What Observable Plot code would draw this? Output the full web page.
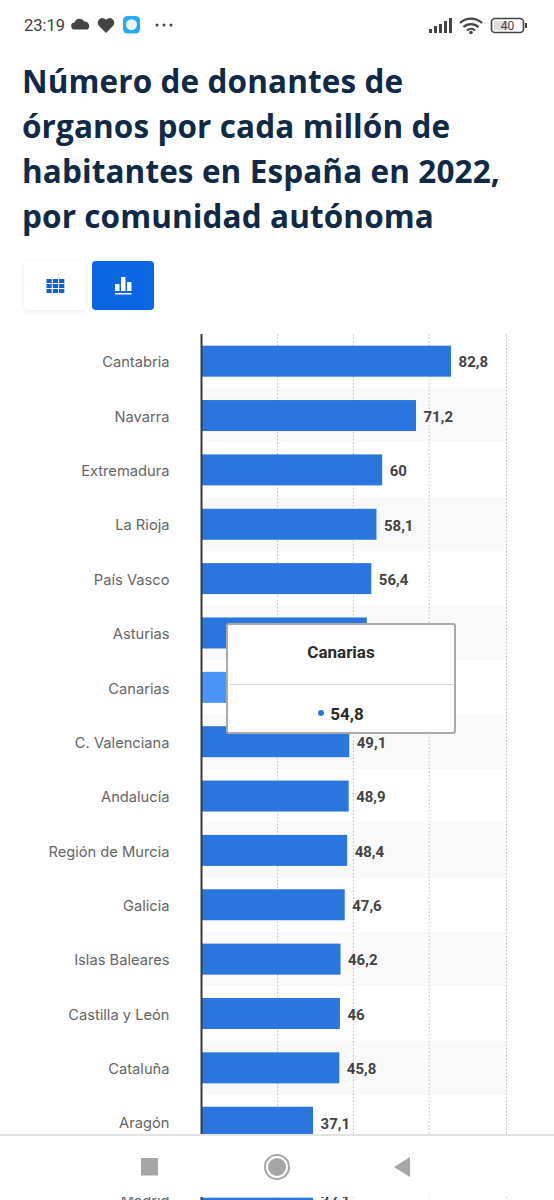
<!DOCTYPE html>
<html lang="es">
<head>
<meta charset="utf-8">
<script src="https://cdn.jsdelivr.net/npm/d3@7"></script>
<script src="https://cdn.jsdelivr.net/npm/@observablehq/plot@0.6"></script>
<style>
html,body{margin:0;padding:0;background:#fff;}
body{position:relative;width:554px;height:1200px;overflow:hidden;font-family:Inter,Roboto,sans-serif;}
.abs{position:absolute;}
#title{left:22px;top:58px;width:510px;margin:0;font:700 31.5px/45px "Open Sans",sans-serif;color:#0f2a47;letter-spacing:.1px;}
#time{left:24px;top:16px;font:400 16.5px/20px Roboto,sans-serif;color:#3d3d3d;}
#btn1{left:24px;top:261px;width:62px;height:49px;background:#fff;border-radius:4px;box-shadow:0 1px 5px rgba(0,0,0,.09);}
#btn2{left:92px;top:261px;width:62px;height:49px;background:#0a66e2;border-radius:4px;}
#chart{left:0;top:334px;}
#strip{left:0;top:1197px;width:554px;height:3px;overflow:hidden;}
#nav{left:0;top:1134px;width:554px;height:63px;background:#fff;border-top:2px solid #e3e3e3;box-sizing:border-box;}
#tip{left:226px;top:623px;width:230px;height:111px;box-sizing:border-box;background:#fff;border:2px solid #a9a9a9;border-radius:3px;}
#tipT{position:absolute;left:0;right:0;top:17px;text-align:center;font:700 17px/20px Roboto,sans-serif;color:#2b2b2b;}
#tipH{position:absolute;left:1px;right:1px;top:59px;height:1px;background:#d6d6d6;}
#tipV{position:absolute;left:0;right:0;top:79px;text-align:center;font:700 17px/20px Roboto,sans-serif;color:#2b2b2b;}
#tipB{display:inline-block;width:6px;height:6px;border-radius:50%;background:#2a75de;position:relative;top:-4px;margin-right:6px;}
</style>
</head>
<body>
<script>
const categories = ["Cantabria","Navarra","Extremadura","La Rioja","País Vasco","Asturias","Canarias","C. Valenciana","Andalucía","Región de Murcia","Galicia","Islas Baleares","Castilla y León","Cataluña","Aragón"];
const donors = [82.8,71.2,60,58.1,56.4,54.9,54.8,49.1,48.9,48.4,47.6,46.2,46,45.8,37.1];
const gridValues = [25.2,50.3,75.4,101];
const nextCategory = ["Madrid"];
const nextValue = [37.1];
const highlighted = "Canarias";
const barColor = "#2a75de", barHighlight = "#4a94f6", bandColor = "#f9f9f9";

const rows = categories.map((name,i)=>({name,value:donors[i],odd:i%2===1}));
const fmt = v => String(v).replace(".",",");

function chart(data, height, domain, textDy){
  return Plot.plot({
    width:554, height,
    marginLeft:201, marginRight:48, marginTop:0, marginBottom:0,
    x:{domain:[0,101], axis:null},
    y:{domain, paddingInner:0.43, paddingOuter:0.215, round:false, label:null},
    marks:[
      Plot.barX(data.filter(d=>d.odd),{y:"name",x1:0,x2:101,fill:bandColor,insetTop:-11.67,insetBottom:-11.67}),
      Plot.ruleX(gridValues,{stroke:"#bdbdbd",strokeDasharray:"1.5 2",strokeWidth:1}),
      Plot.barX(data,{y:"name",x:"value",fill:d=>d.name===highlighted?barHighlight:barColor}),
      Plot.ruleX([0],{stroke:"#3a3a3a",strokeWidth:2}),
      Plot.axisY({tickSize:0,tickPadding:32,fontSize:14.7,color:"#666",fontWeight:400,dy:textDy+1}),
      Plot.text(data,{y:"name",x:"value",text:d=>fmt(d.value),textAnchor:"start",dx:7,dy:textDy+1,fontSize:15,fontWeight:700,fill:"#444",fontFamily:"Roboto,sans-serif"})
    ],
    style:{fontFamily:"Inter,Roboto,sans-serif",background:"transparent",overflow:"visible"}
  });
}

function el(id,cls){const d=document.createElement("div");d.id=id;d.className=cls||"abs";document.body.appendChild(d);return d;}

el("time").textContent="23:19";
el("statusIcons","abs").innerHTML=`<svg width="554" height="40" style="position:absolute;left:0;top:0;overflow:visible" fill="#444">
<path d="M75 29.500 a3.500 3.500 0 0 1-.5-7 a5.500 5.500 0 0 1 10-1 a4.500 4.500 0 0 1 3 8z"/>
<path d="M106 33 l-7.200-7.200 a4.600 4.600 0 0 1 7.200-6 a4.600 4.600 0 0 1 7.200 6z"/>
<rect x="123" y="16" width="17" height="17.500" rx="4.500" fill="#29a9f5"/><circle cx="131.500" cy="24.700" r="5.500" fill="#e8f3fb"/>
<circle cx="157" cy="25" r="1.500"/><circle cx="164" cy="25" r="1.500"/><circle cx="171" cy="25" r="1.500"/>
<rect x="429" y="29" width="3" height="4"/><rect x="434" y="26" width="3" height="7"/><rect x="439" y="24" width="3" height="9"/><rect x="444" y="21" width="3" height="12"/><rect x="449" y="18" width="3" height="15"/>
<path d="M460 23 a16 16 0 0 1 22 0 M463.500 27 a11 11 0 0 1 15 0 M467 30.500 a6 6 0 0 1 8 0" fill="none" stroke="#444" stroke-width="2.200"/><circle cx="471" cy="32.500" r="1.800"/>
<rect x="491.500" y="18.500" width="32" height="14" rx="3.500" fill="none" stroke="#444" stroke-width="1.600"/><rect x="494" y="21" width="14" height="9" fill="#ddd"/><rect x="525" y="23" width="2" height="5"/>
<text x="507.500" y="30" font-family="Roboto" font-size="12" text-anchor="middle" fill="#444">40</text></svg>`;

const h=document.createElement("h1");h.id="title";h.className="abs";
h.innerHTML="Número de donantes de<br>órganos por cada millón de<br>habitantes en España en 2022,<br>por comunidad autónoma";
document.body.appendChild(h);

el("btn1").innerHTML=`<svg width="62" height="49"><g fill="#0d62cf">${[0,1,2].flatMap(r=>[0,1,2].map(c=>`<rect x="${22.5+c*6.3}" y="${18+r*5}" width="5.2" height="4"/>`)).join("")}</g></svg>`;
el("btn2").innerHTML=`<svg width="62" height="49"><g fill="#fff"><rect x="23" y="23" width="4.500" height="7"/><rect x="29" y="16" width="4.500" height="14"/><rect x="35" y="21" width="4.500" height="9"/><rect x="23" y="32" width="16.500" height="1.500"/></g></svg>`;

const main=el("chart");
main.appendChild(chart(rows,815.4,categories,0));

const strip=el("strip");
strip.appendChild(chart([{name:nextCategory[0],value:nextValue[0],odd:false}],54.3,nextCategory,-13));
strip.firstChild.style.marginTop="-10.7px";

el("nav").innerHTML=`<svg width="554" height="63" fill="#a6a6a6">
<rect x="141" y="22" width="17" height="17.500"/>
<circle cx="277" cy="31" r="12" fill="none" stroke="#a6a6a6" stroke-width="2"/><circle cx="277" cy="31" r="9"/>
<path d="M394 31 L410 21 V41z"/></svg>`;

el("tip").innerHTML=`<div id="tipT">Canarias</div><div id="tipH"></div><div id="tipV"><span id="tipB"></span>54,8</div>`;
</script>
</body>
</html>
